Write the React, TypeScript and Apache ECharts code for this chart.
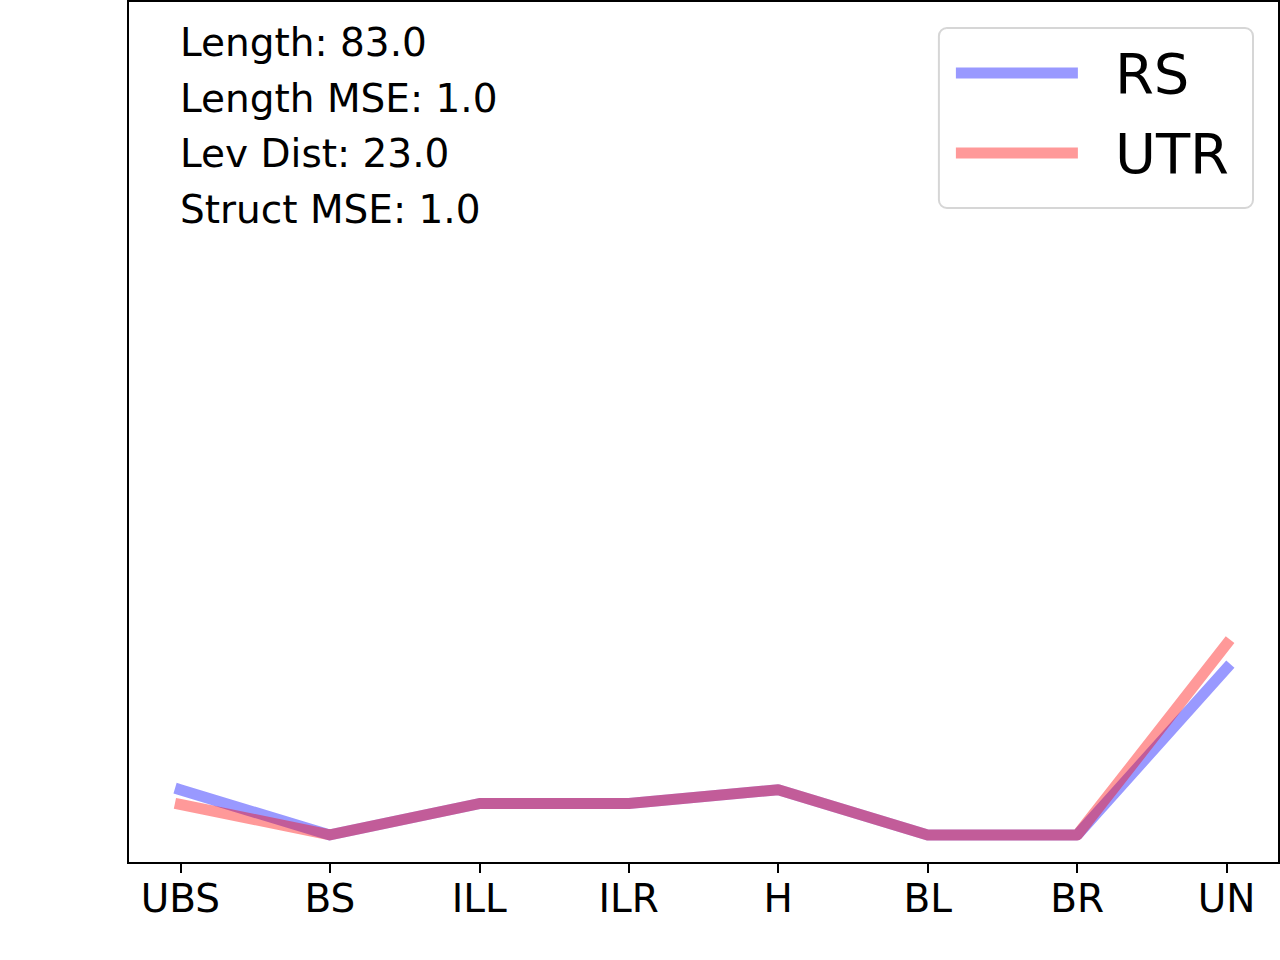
import React, { useEffect, useRef } from "react";
import * as echarts from "echarts";

const categories = ["UBS", "BS", "ILL", "ILR", "H", "BL", "BR", "UN"];
const rsValues = [0.085, 0.0325, 0.069, 0.069, 0.085, 0.0325, 0.0325, 0.226];
const utrValues = [0.068, 0.0325, 0.069, 0.069, 0.085, 0.0325, 0.0325, 0.254];
const annotations = ["Length: 83.0", "Length MSE: 1.0", "Lev Dist: 23.0", "Struct MSE: 1.0"];
const seriesNames = ["RS", "UTR"];

const FONT = "'DejaVu Sans', sans-serif";

export default function App() {
  const ref = useRef<HTMLDivElement>(null);
  useEffect(() => {
    if (!ref.current) return;
    const chart = echarts.init(ref.current, undefined, { renderer: "svg" });
    const idx = categories.map((_, i) => i);
    const toData = (vals: number[]) => vals.map((v, i) => [i, v]);
    const lineSeries = (name: string, vals: number[], rgb: string) => ({
      name,
      type: "line",
      data: toData(vals),
      symbol: "none",
      silent: true,
      itemStyle: { color: `rgba(${rgb},0.4)` },
      lineStyle: { color: `rgb(${rgb})`, opacity: 0.4, width: 11, cap: "square", join: "round" },
      emphasis: { disabled: true },
    });
    chart.setOption({
      animation: false,
      backgroundColor: "#ffffff",
      grid: {
        left: 128,
        right: 1,
        top: 1,
        bottom: 97,
        show: true,
        borderColor: "#000000",
        borderWidth: 2,
        containLabel: false,
      },
      xAxis: {
        type: "value",
        min: -0.35,
        max: 7.35,
        splitLine: { show: false },
        axisLine: { show: true, onZero: false, lineStyle: { color: "#000000", width: 2 } },
        axisTick: {
          show: true,
          customValues: idx,
          length: 10,
          inside: false,
          lineStyle: { color: "#000000", width: 2 },
        },
        axisLabel: {
          show: true,
          customValues: idx,
          formatter: (v: number) => categories[Math.round(v)] ?? "",
          fontFamily: FONT,
          fontSize: 39,
          lineHeight: 40,
          color: "#000000",
          margin: 15,
          showMinLabel: true,
          showMaxLabel: true,
        },
      },
      yAxis: {
        type: "value",
        min: 0,
        max: 1,
        splitLine: { show: false },
        axisLine: { show: true, onZero: false, lineStyle: { color: "#000000", width: 2 } },
        axisTick: { show: false },
        axisLabel: { show: false },
      },
      legend: {
        data: seriesNames,
        right: 27,
        top: 28,
        orient: "vertical",
        icon: "rect",
        itemWidth: 122,
        itemHeight: 11,
        symbolKeepAspect: false,
        itemGap: 24,
        padding: [17, 24, 27, 17],
        backgroundColor: "#ffffff",
        borderColor: "#d6d6d6",
        borderWidth: 2,
        borderRadius: 8,
        selectedMode: false,
        textStyle: { fontFamily: FONT, fontSize: 56, lineHeight: 56, color: "#000000", padding: [0, 0, 0, 32] },
      },
      graphic: annotations.map((t, i) => ({
        type: "text",
        left: 180,
        top: 42.5 + i * 55.5 - 20,
        style: {
          text: t,
          fontFamily: FONT,
          fontSize: 39,
          lineHeight: 40,
          fill: "#000000",
        },
        silent: true,
      })),
      series: [
        lineSeries(seriesNames[0], rsValues, "0,0,255"),
        lineSeries(seriesNames[1], utrValues, "255,0,0"),
      ],
    });
    return () => chart.dispose();
  }, []);
  return (
    <div
      ref={ref}
      style={{ position: "fixed", left: 0, top: 0, width: 1280, height: 960, background: "#fff" }}
    />
  );
}
